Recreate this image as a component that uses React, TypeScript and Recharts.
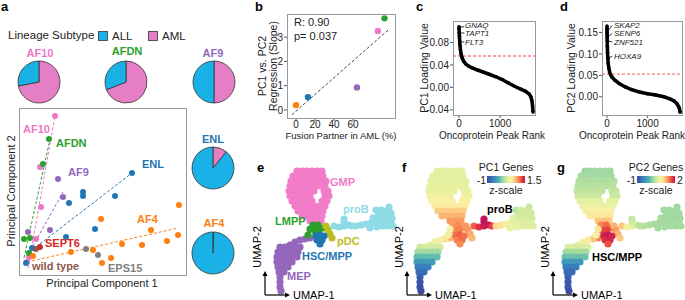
import React from "react";
import {
  PieChart, Pie, Cell, ScatterChart, Scatter, XAxis, YAxis,
  ReferenceLine, ComposedChart, Line,
} from "recharts";

const FONT = '"Liberation Sans", Arial, Helvetica, sans-serif';

// ---------- panel a: lineage subtype pies ----------
const pieNames = ["AF10", "AFDN", "AF9", "ENL", "AF4"];
const pieAmlPct = [72, 69, 50, 11, 0.4];

// ---------- panel a: PCA points (PC1, PC2) ----------
const af10Pc = [[36, 159], [21, 108], [22, 68], [17, 36], [8, 13], [10, 18]];
const afdnPc = [[30, 136], [24, 111], [5, 36], [11, 37], [10, 22]];
const af9Pc = [[39, 96], [44, 78], [31, 45], [9, 43]];
const enlPc = [[113, 102], [64, 83], [64, 79], [50, 72], [96, 79], [76, 46], [47, 38], [13, 27], [7, 12]];
const af4Pc = [[160, 70], [82, 56], [132, 45], [159, 40], [148, 34], [123, 30], [103, 31], [74, 25], [52, 23], [14, 19], [92, 17], [83, 12]];
const eps15Pc = [[67, 26], [79, 20]];
const sept6Pc = [[21, 28]];
const wildTypePc = [[17, 26]];

// fitted lines, [start, end]
const af10Fit = [[9, 7], [36, 159]];
const afdnFit = [[5, 17], [31, 136]];
const af9Fit = [[9, 20], [44, 83]];
const enlFit = [[13, 25], [113, 102]];
const af4Fit = [[8, 13], [159, 47]];

// ---------- panel b ----------
const bPartners = ["AF4", "ENL", "AF9", "AF10", "AFDN"];
const bAmlPct = [0, 12.5, 64, 86, 93];
const bSlope = [0.2, 0.53, 0.93, 3.25, 3.77];
const bFit = [[-4.4, -0.2], [98, 3.33]];

// ---------- panels c, d: loading curves ----------
const pc1Rank = [0, 2, 5, 10, 16, 24, 35, 50, 75, 110, 160, 230, 320, 450, 600, 750, 900, 1050, 1200, 1350, 1500, 1620, 1710, 1750, 1775, 1790, 1800];
const pc1Load = [0.108, 0.104, 0.098, 0.091, 0.083, 0.075, 0.067, 0.06, 0.053, 0.047, 0.042, 0.038, 0.035, 0.031, 0.027, 0.023, 0.019, 0.014, 0.008, 0.002, -0.003, -0.007, -0.012, -0.017, -0.024, -0.033, -0.044];
const pc2Rank = [0, 1, 2, 3, 4, 6, 9, 13, 20, 30, 45, 65, 90, 130, 200, 300, 450, 600, 800, 1000, 1200, 1400, 1550, 1650, 1720, 1760, 1785, 1800];
const pc2Load = [0.165, 0.158, 0.151, 0.145, 0.138, 0.131, 0.118, 0.104, 0.09, 0.078, 0.067, 0.058, 0.051, 0.045, 0.038, 0.031, 0.023, 0.017, 0.011, 0.007, 0.004, 0.0, -0.005, -0.01, -0.016, -0.022, -0.028, -0.036];
const pc1Genes = ["GNAQ", "TAPT1", "FLT3"];
const pc1GeneAt = [[0, 0.108], [5, 0.097], [18, 0.081]];
const pc2Genes = ["SKAP2", "SENP6", "ZNF521", "HOXA9"];
const pc2GeneAt = [[2, 0.151], [4, 0.138], [6, 0.131], [20, 0.09]];
const pc2GeneLbl = [0.167, 0.148, 0.128, 0.095];

// ---------- panels e-g: UMAP cells [UMAP-1, UMAP-2, PC1 z, PC2 z] ----------
const umapGMP = [
  [27, 124, 0.38, 0.25], [32, 124, 0.38, 0.25], [37, 124, 0.38, 0.25], [42, 124, 0.38, 0.25], [47, 124, 0.38, 0.25], [52, 124, 0.38, 0.25],
  [23, 119, 0.38, 0.29], [28, 119, 0.38, 0.29], [33, 119, 0.38, 0.29], [38, 119, 0.38, 0.29], [43, 119, 0.38, 0.29], [48, 119, 0.38, 0.29], [53, 119, 0.38, 0.29],
  [21, 114, 0.4, 0.35], [26, 114, 0.4, 0.35], [31, 114, 0.4, 0.35], [36, 114, 0.4, 0.35], [41, 114, 0.4, 0.35], [46, 114, 0.4, 0.35], [51, 114, 0.4, 0.35], [56, 114, 0.4, 0.35],
  [20, 109, 0.42, 0.4], [25, 109, 0.42, 0.4], [30, 109, 0.42, 0.4], [35, 109, 0.42, 0.4], [40, 109, 0.42, 0.4], [45, 109, 0.42, 0.4], [50, 109, 0.42, 0.4], [55, 109, 0.42, 0.4],
  [19, 104, 0.45, 0.45], [24, 104, 0.45, 0.45], [29, 104, 0.45, 0.45], [34, 104, 0.45, 0.45], [39, 104, 0.45, 0.45], [44, 104, 0.45, 0.45], [54, 104, 0.45, 0.45], [58, 104, 0.45, 0.45],
  [20, 99, 0.5, 0.5], [25, 99, 0.5, 0.5], [30, 99, 0.5, 0.5], [35, 99, 0.5, 0.5], [40, 99, 0.5, 0.5], [55, 99, 0.5, 0.5], [59, 99, 0.5, 0.5],
  [22, 94, 0.6, 0.65], [27, 94, 0.6, 0.65], [32, 94, 0.6, 0.65], [37, 94, 0.6, 0.65], [42, 94, 0.6, 0.65], [52, 94, 0.6, 0.65], [57, 94, 0.6, 0.65],
  [25, 89, 0.65, 0.75], [30, 89, 0.65, 0.75], [35, 89, 0.65, 0.75], [40, 89, 0.65, 0.75], [45, 89, 0.65, 0.75], [50, 89, 0.65, 0.75], [55, 89, 0.65, 0.75],
  [28, 84, 0.8, 0.9], [33, 84, 0.8, 0.9], [38, 84, 0.8, 0.9], [43, 84, 0.8, 0.9], [48, 84, 0.8, 0.9], [53, 84, 0.8, 0.9],
  [32, 79, 0.9, 1.0], [37, 79, 0.9, 1.0], [42, 79, 0.9, 1.0], [47, 79, 0.9, 1.0], [52, 79, 0.9, 1.0],
  [40, 74, 1.0, 1.2], [46, 74, 1.0, 1.2], [51, 74, 1.0, 1.2],
];
const umapLMPP = [[43, 70, 1.0, 1.5], [48, 70, 1.05, 1.6], [53, 67, 1.05, 1.6], [44, 65, 1.05, 1.7], [49, 65, 1.1, 1.75], [46, 60, 1.1, 1.8], [40, 66, 0.6, 1.0], [38, 60, 0.55, 0.9]];
const umapHSC = [[46, 59, 1.15, 1.9], [50, 60, 1.2, 2.0], [54, 59, 1.15, 1.9], [47, 55, 1.1, 1.85], [52, 55, 1.15, 1.9], [50, 51, 1.05, 1.7]];
const umapPDC = [[56, 69, 1.0, 1.3], [58, 65, 1.0, 1.4], [60, 61, 0.95, 1.3], [62, 57, 0.9, 1.2]];
const umapProB = [
  [64, 69, 1.2, 1.2], [69, 68, 1.35, 0.9], [74, 69, 1.45, 0.7], [79, 70, 1.5, 0.5], [74, 73, 1.5, 0.6], [74, 76, 1.5, 0.5], [82, 69, 1.3, 0.4],
  [86, 69, 0.75, 0.4], [91, 70, 0.7, 0.35], [96, 71, 0.55, 0.3], [101, 72, 0.45, 0.3], [106, 73, 0.4, 0.3], [111, 74, 0.35, 0.3], [116, 75, 0.35, 0.3],
  [121, 73, 0.35, 0.3], [123, 69, 0.35, 0.3], [118, 69, 0.35, 0.3], [113, 69, 0.35, 0.3], [107, 68, 0.4, 0.3], [100, 67, 0.45, 0.3],
  [103, 77, 0.4, 0.3], [108, 79, 0.3, 0.28], [113, 80, 0.3, 0.28], [118, 79, 0.3, 0.28], [122, 77, 0.3, 0.28],
  [106, 85, 0.2, 0.25], [111, 85, 0.3, 0.28], [116, 84, 0.3, 0.28], [121, 82, 0.3, 0.28], [119, 88, 0.25, 0.25],
];
const umapMEP = [
  [40, 57, 0.9, 1.5], [35, 56, 0.7, 1.2], [30, 55, 0.6, 1.0], [25, 53, 0.5, 0.8], [20, 50, 0.4, 0.7],
  [10, 48, 0.3, 0.6], [15, 48, 0.3, 0.6], [20, 48, 0.3, 0.6], [25, 48, 0.3, 0.6], [30, 48, 0.3, 0.6],
  [8, 43, 0.05, 0.3], [13, 43, 0.05, 0.3], [18, 43, 0.05, 0.3], [23, 43, 0.05, 0.3], [28, 43, 0.05, 0.3],
  [7, 38, -0.15, 0.05], [12, 38, -0.15, 0.05], [17, 38, -0.15, 0.05], [22, 38, -0.15, 0.05], [27, 38, -0.15, 0.05],
  [7, 33, -0.4, -0.3], [12, 33, -0.4, -0.3], [17, 33, -0.4, -0.3], [22, 33, -0.4, -0.3],
  [8, 28, -0.6, -0.55], [13, 28, -0.6, -0.55], [18, 28, -0.6, -0.55],
  [9, 23, -0.75, -0.7], [14, 23, -0.75, -0.7],
  [10, 18, -0.85, -0.8], [10, 13, -0.9, -0.85], [10, 8, -0.95, -0.9], [11, 4, -1.0, -0.95],
];

// ---------- colours ----------
const partnerColor: Record<string, string> = {
  AF10: "#ec77c8", AFDN: "#2ca02c", AF9: "#9467bd", ENL: "#1f77b4", AF4: "#ff7f0e",
  SEPT6: "#d62728", "wild type": "#8c564b", EPS15: "#7f7f7f",
};
const ALL_C = "#19b1e6";
const AML_C = "#e57ec4";
const cellColor: Record<string, string> = {
  GMP: "#f27cc8", proB: "#8edbe6", LMPP: "#2ca02c", "HSC/MPP": "#1f77b4", pDC: "#bcbd22", MEP: "#9467bd",
};
const zStops: [number, string][] = [
  [0, "#3b4aa0"], [0.15, "#3a7dbf"], [0.3, "#45b0b5"], [0.42, "#9fd8a0"], [0.55, "#e2f1a0"],
  [0.65, "#fbf0a2"], [0.75, "#fdbd78"], [0.85, "#f47848"], [0.93, "#e3363f"], [1, "#c4145a"],
];

function hex(c: string) {
  return [1, 3, 5].map((i) => parseInt(c.slice(i, i + 2), 16));
}
function zColor(z: number, lo: number, hi: number) {
  const t = Math.max(0, Math.min(1, (z - lo) / (hi - lo)));
  for (let i = 1; i < zStops.length; i++) {
    if (t <= zStops[i][0]) {
      const [t0, c0] = zStops[i - 1];
      const [t1, c1] = zStops[i];
      const f = (t - t0) / (t1 - t0);
      const a = hex(c0), b = hex(c1);
      return `rgb(${a.map((v, k) => Math.round(v + (b[k] - v) * f)).join(",")})`;
    }
  }
  return zStops[zStops.length - 1][1];
}

const pcaGroups = [
  { name: "AF10", pts: af10Pc, fit: af10Fit },
  { name: "AFDN", pts: afdnPc, fit: afdnFit },
  { name: "AF9", pts: af9Pc, fit: af9Fit },
  { name: "ENL", pts: enlPc, fit: enlFit },
  { name: "AF4", pts: af4Pc, fit: af4Fit },
  { name: "EPS15", pts: eps15Pc, fit: null },
  { name: "SEPT6", pts: sept6Pc, fit: null },
  { name: "wild type", pts: wildTypePc, fit: null },
];

const umapGroups = [
  { name: "GMP", cells: umapGMP },
  { name: "proB", cells: umapProB },
  { name: "MEP", cells: umapMEP },
  { name: "LMPP", cells: umapLMPP },
  { name: "pDC", cells: umapPDC },
  { name: "HSC/MPP", cells: umapHSC },
];
const umapAll = umapGroups.flatMap((g) =>
  g.cells.map(([u1, u2, z1, z2]) => ({ u1, u2, z1, z2, type: g.name }))
);

const tickStyle = { fontSize: 10, fill: "#222" };
const abs = (left: number, top: number): React.CSSProperties => ({ position: "absolute", left, top });

function LineagePie({ i, cx, cy }: { i: number; cx: number; cy: number }) {
  const data = [
    { k: "AML", v: pieAmlPct[i] },
    { k: "ALL", v: 100 - pieAmlPct[i] },
  ];
  return (
    <div style={abs(cx - 25, cy - 25)}>
      <PieChart width={50} height={50} margin={{ top: 0, right: 0, bottom: 0, left: 0 }}>
        <Pie data={data} dataKey="v" cx={25} cy={25} outerRadius={21} startAngle={90} endAngle={-270}
          stroke="#333" strokeWidth={0.8} isAnimationActive={false}>
          {data.map((d) => <Cell key={d.k} fill={d.k === "AML" ? AML_C : ALL_C} />)}
        </Pie>
      </PieChart>
    </div>
  );
}

function Umap({ left, mode }: { left: number; mode: "type" | "pc1" | "pc2" }) {
  const fillOf = (p: any) =>
    mode === "type" ? cellColor[p.type] : mode === "pc1" ? zColor(p.z1, -1, 1.5) : zColor(p.z2, -1, 2);
  return (
    <div style={abs(left, 165)}>
      <ScatterChart width={130} height={130} margin={{ top: 0, right: 0, bottom: 0, left: 0 }}>
        <XAxis type="number" dataKey="u1" domain={[0, 130]} hide allowDataOverflow />
        <YAxis type="number" dataKey="u2" domain={[0, 130]} hide allowDataOverflow />
        <Scatter data={umapAll} isAnimationActive={false}
          shape={(p: any) => <circle cx={p.cx} cy={p.cy} r={3.6} fill={fillOf(p.payload)} />} />
      </ScatterChart>
    </div>
  );
}

function Arrows({ x0 }: { x0: number }) {
  return (
    <g stroke="#000" strokeWidth={1.2} fill="#000">
      <line x1={x0} y1={295} x2={x0} y2={275} />
      <line x1={x0} y1={295} x2={x0 + 21} y2={295} />
      <polygon points={`${x0 - 2.5},276 ${x0 + 2.5},276 ${x0},271`} stroke="none" />
      <polygon points={`${x0 + 20},292.5 ${x0 + 20},297.5 ${x0 + 25},295`} stroke="none" />
      <text x={x0 + 28} y={299} fontSize={11} stroke="none">UMAP-1</text>
      <text transform={`translate(${x0 - 4},247) rotate(-90)`} textAnchor="middle" fontSize={11} stroke="none">UMAP-2</text>
    </g>
  );
}

export default function App() {
  const bData = bPartners.map((p, i) => ({ x: bAmlPct[i], y: bSlope[i], name: p }));
  const cData = pc1Rank.map((r, i) => ({ rank: r, v: pc1Load[i] }));
  const dData = pc2Rank.map((r, i) => ({ rank: r, v: pc2Load[i] }));
  const bold = { fontWeight: 700, fontSize: 11 };

  return (
    <div style={{ position: "absolute", left: 0, top: 0, width: 685, height: 300, background: "#fff", overflow: "hidden", fontFamily: FONT }}>
      {/* a: pies */}
      <LineagePie i={0} cx={39} cy={82} />
      <LineagePie i={1} cx={126} cy={82} />
      <LineagePie i={2} cx={214} cy={82} />
      <LineagePie i={3} cx={213} cy={168} />
      <LineagePie i={4} cx={213} cy={253} />

      {/* a: PCA */}
      <div style={abs(19, 108)}>
        <ScatterChart width={167} height={167} margin={{ top: 0, right: 0, bottom: 0, left: 0 }}>
          <XAxis type="number" dataKey="x" domain={[0, 167]} hide allowDataOverflow />
          <YAxis type="number" dataKey="y" domain={[0, 167]} hide allowDataOverflow />
          {pcaGroups.filter((g) => g.fit).map((g) => (
            <ReferenceLine key={g.name + "fit"} ifOverflow="visible" stroke={partnerColor[g.name]} strokeDasharray="3 2" strokeWidth={1}
              segment={[{ x: g.fit![0][0], y: g.fit![0][1] }, { x: g.fit![1][0], y: g.fit![1][1] }]} />
          ))}
          {pcaGroups.map((g) => (
            <Scatter key={g.name} data={g.pts.map(([x, y]) => ({ x, y }))} isAnimationActive={false}
              shape={(p: any) => <circle cx={p.cx} cy={p.cy} r={3} fill={partnerColor[g.name]} />} />
          ))}
        </ScatterChart>
      </div>

      {/* b */}
      <div style={abs(257, 14)}>
        <ScatterChart width={138} height={126} margin={{ top: 0, right: 0, bottom: 0, left: 0 }}>
          <XAxis type="number" dataKey="x" domain={[-9.5, 104]} ticks={[0, 20, 40, 60]} allowDataOverflow
            axisLine={false} tickSize={3} tickMargin={0} height={22} tick={tickStyle} stroke="#555" />
          <YAxis type="number" dataKey="y" domain={[-0.33, 3.95]} ticks={[0, 1, 2, 3]} allowDataOverflow
            axisLine={false} tickSize={3} tickMargin={1} width={30} tick={tickStyle} stroke="#555" />
          <ReferenceLine ifOverflow="visible" stroke="#333" strokeDasharray="3 2" strokeWidth={0.9}
            segment={[{ x: bFit[0][0], y: bFit[0][1] }, { x: bFit[1][0], y: bFit[1][1] }]} />
          <Scatter data={bData} isAnimationActive={false}
            shape={(p: any) => <circle cx={p.cx} cy={p.cy} r={3.2} fill={partnerColor[p.payload.name]} />} />
        </ScatterChart>
      </div>

      {/* c */}
      <div style={abs(423, 21)}>
        <ComposedChart width={112} height={114} data={cData} margin={{ top: 0, right: 0, bottom: 0, left: 0 }}>
          <XAxis type="number" dataKey="rank" domain={[-146, 1849]} ticks={[0, 1000]} allowDataOverflow
            axisLine={false} tickSize={3} tickMargin={2} height={20} tick={tickStyle} stroke="#555" />
          <YAxis type="number" domain={[-0.0492, 0.1184]} ticks={[-0.04, 0, 0.04, 0.08]} allowDataOverflow
            tickFormatter={(v: number) => v.toFixed(2)} axisLine={false} tickSize={3} tickMargin={1} width={30} tick={tickStyle} stroke="#555" />
          <ReferenceLine y={0.056} stroke="#f07f80" strokeDasharray="3 2" strokeWidth={1.4} />
          <Line dataKey="v" type="linear" stroke="#000" strokeWidth={3.5} dot={{ r: 1.8, fill: "#000", stroke: "none" }} isAnimationActive={false} />
          {pc1GeneAt.map(([r, v], i) => (
            <ReferenceLine key={pc1Genes[i]} ifOverflow="visible" stroke="#000" strokeWidth={0.8}
              segment={[{ x: r, y: v }, { x: 130, y: v }]} />
          ))}
        </ComposedChart>
      </div>

      {/* d */}
      <div style={abs(572, 21)}>
        <ComposedChart width={110} height={114} data={dData} margin={{ top: 0, right: 0, bottom: 0, left: 0 }}>
          <XAxis type="number" dataKey="rank" domain={[-123, 1847]} ticks={[0, 1000]} allowDataOverflow
            axisLine={false} tickSize={3} tickMargin={2} height={20} tick={tickStyle} stroke="#555" />
          <YAxis type="number" domain={[-0.0426, 0.177]} ticks={[0, 0.05, 0.1, 0.15]} allowDataOverflow
            tickFormatter={(v: number) => v.toFixed(2)} axisLine={false} tickSize={3} tickMargin={1} width={30} tick={tickStyle} stroke="#555" />
          <ReferenceLine y={0.053} stroke="#f07f80" strokeDasharray="3 2" strokeWidth={1.4} />
          <Line dataKey="v" type="linear" stroke="#000" strokeWidth={3.5} dot={{ r: 1.8, fill: "#000", stroke: "none" }} isAnimationActive={false} />
          {pc2GeneAt.map(([r, v], i) => (
            <ReferenceLine key={pc2Genes[i]} ifOverflow="visible" stroke="#000" strokeWidth={0.8}
              segment={[{ x: r, y: v }, { x: 130, y: pc2GeneLbl[i] }]} />
          ))}
        </ComposedChart>
      </div>

      {/* e, f, g */}
      <Umap left={270} mode="type" />
      <Umap left={410} mode="pc1" />
      <Umap left={558} mode="pc2" />

      {/* text, frames, legends */}
      <svg width={685} height={300} style={{ position: "absolute", left: 0, top: 0, pointerEvents: "none" }}>
        <defs>
          <linearGradient id="zgrad" x1="0" x2="1" y1="0" y2="0">
            {zStops.map(([t, c]) => <stop key={t} offset={t} stopColor={c} />)}
          </linearGradient>
        </defs>
        <g fontWeight={700} fontSize={13} fill="#000">
          <text x={1} y={11}>a</text>
          <text x={255} y={11}>b</text>
          <text x={416} y={11}>c</text>
          <text x={560} y={11}>d</text>
          <text x={257} y={172}>e</text>
          <text x={402} y={172}>f</text>
          <text x={557} y={172}>g</text>
        </g>

        {/* a legend */}
        <text x={8} y={39} fontSize={11.5} fill="#222">Lineage Subtype</text>
        <rect x={98.5} y={31.5} width={9} height={9} fill={ALL_C} stroke="#333" strokeWidth={0.8} />
        <text x={112} y={40} fontSize={11.5} fill="#222">ALL</text>
        <rect x={148.5} y={31.5} width={9} height={9} fill={AML_C} stroke="#333" strokeWidth={0.8} />
        <text x={162} y={40} fontSize={11.5} fill="#222">AML</text>
        <g textAnchor="middle" {...bold}>
          <text x={40} y={57} fill={partnerColor[pieNames[0]]}>{pieNames[0]}</text>
          <text x={127} y={55} fill={partnerColor[pieNames[1]]}>{pieNames[1]}</text>
          <text x={213} y={57} fill={partnerColor[pieNames[2]]}>{pieNames[2]}</text>
          <text x={213} y={143} fill={partnerColor[pieNames[3]]}>{pieNames[3]}</text>
          <text x={214} y={227} fill={partnerColor[pieNames[4]]}>{pieNames[4]}</text>
        </g>

        {/* a scatter frame + labels */}
        <rect x={19.5} y={108.5} width={167} height={167} fill="none" stroke="#999" />
        <g {...bold}>
          <text x={23} y={133} fill={partnerColor.AF10}>AF10</text>
          <text x={56} y={147} fill={partnerColor.AFDN}>AFDN</text>
          <text x={68} y={176} fill={partnerColor.AF9}>AF9</text>
          <text x={142} y={168} fill={partnerColor.ENL}>ENL</text>
          <text x={137} y={223} fill={partnerColor.AF4}>AF4</text>
          <text x={45} y={247} fill={partnerColor.SEPT6}>SEPT6</text>
          <text x={32} y={270} fill={partnerColor["wild type"]}>wild type</text>
          <text x={108} y={272} fill={partnerColor.EPS15}>EPS15</text>
        </g>
        <text x={102} y={287} textAnchor="middle" fontSize={11} fill="#222">Principal Component 1</text>
        <text transform="translate(15,191) rotate(-90)" textAnchor="middle" fontSize={11} fill="#222">Principal Component 2</text>

        {/* b */}
        <rect x={287.5} y={14.5} width={108} height={104} fill="none" stroke="#999" />
        <text x={294} y={26} fontSize={11} fill="#222">R: 0.90</text>
        <text x={294} y={40} fontSize={11} fill="#222">p= 0.037</text>
        <text transform="translate(266,66) rotate(-90)" textAnchor="middle" fontSize={10.5} fill="#222">PC1 vs. PC2</text>
        <text transform="translate(277,66) rotate(-90)" textAnchor="middle" fontSize={10.5} fill="#222">Regression (Slope)</text>
        <text x={341} y={139} textAnchor="middle" fontSize={9.5} fill="#222">Fusion Partner in AML (%)</text>

        {/* c */}
        <rect x={453.5} y={21.5} width={82} height={94} fill="none" stroke="#999" />
        <g fontSize={8} fontStyle="italic" fill="#222">
          <text x={465} y={27.5}>{pc1Genes[0]}</text>
          <text x={465} y={36}>{pc1Genes[1]}</text>
          <text x={465} y={44.5}>{pc1Genes[2]}</text>
        </g>
        <text transform="translate(428,68) rotate(-90)" textAnchor="middle" fontSize={10.5} fill="#222">PC1 Loading Value</text>
        <text x={492} y={139} textAnchor="middle" fontSize={10} fill="#222">Oncoprotein Peak Rank</text>

        {/* d */}
        <rect x={602.5} y={21.5} width={80} height={94} fill="none" stroke="#999" />
        <g fontSize={8} fontStyle="italic" fill="#222">
          <text x={614} y={27.5}>{pc2Genes[0]}</text>
          <text x={614} y={36}>{pc2Genes[1]}</text>
          <text x={614} y={44.5}>{pc2Genes[2]}</text>
          <text x={614} y={58.5}>{pc2Genes[3]}</text>
        </g>
        <text transform="translate(575,68) rotate(-90)" textAnchor="middle" fontSize={10.5} fill="#222">PC2 Loading Value</text>
        <text x={632} y={139} textAnchor="middle" fontSize={10} fill="#222">Oncoprotein Peak Rank</text>

        {/* e labels */}
        <g {...bold}>
          <text x={330} y={186} fill={cellColor.GMP}>GMP</text>
          <text x={343} y={213} fill={cellColor.proB}>proB</text>
          <text x={275} y={225} fill={cellColor.LMPP}>LMPP</text>
          <text x={337} y={245} fill={cellColor.pDC}>pDC</text>
          <text x={302} y={260} fill={cellColor["HSC/MPP"]}>HSC/MPP</text>
          <text x={287} y={280} fill={cellColor.MEP}>MEP</text>
          <text x={487} y={213} fill="#000">proB</text>
          <text x={592} y={261} fill="#000">HSC/MPP</text>
        </g>
        <Arrows x0={265} />
        <Arrows x0={407} />
        <Arrows x0={553} />

        {/* colour bars */}
        <g fontSize={10.5} fill="#222">
          <text x={506} y={171} textAnchor="middle">PC1 Genes</text>
          <rect x={487} y={176} width={38} height={7} fill="url(#zgrad)" />
          <text x={486} y={183.5} textAnchor="end">-1</text>
          <text x={527} y={183.5}>1.5</text>
          <text x={506} y={194} textAnchor="middle">z-scale</text>

          <text x={656} y={171} textAnchor="middle">PC2 Genes</text>
          <rect x={637} y={176} width={38} height={7} fill="url(#zgrad)" />
          <text x={636} y={183.5} textAnchor="end">-1</text>
          <text x={677} y={183.5}>2</text>
          <text x={656} y={194} textAnchor="middle">z-scale</text>
        </g>
      </svg>
    </div>
  );
}
